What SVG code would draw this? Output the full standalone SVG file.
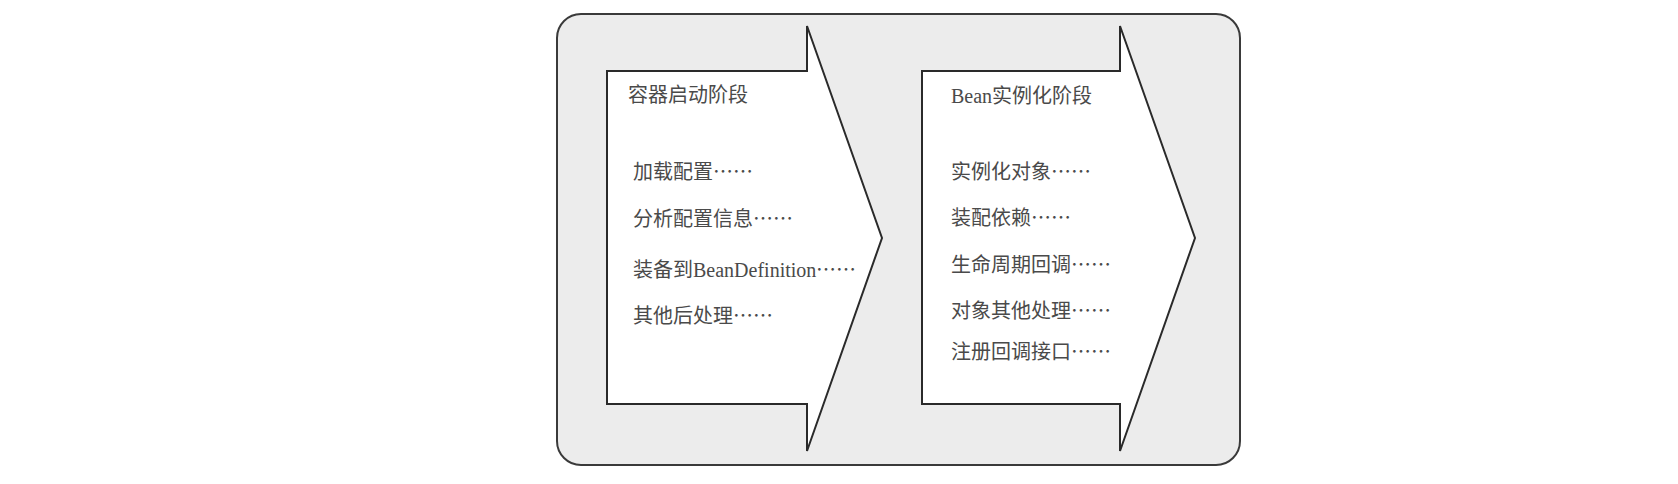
<svg xmlns="http://www.w3.org/2000/svg" width="1678" height="484" viewBox="0 0 1678 484">
<style>
.bg{fill:#ececec;stroke:#3a3a3a;stroke-width:2}
.arrow{fill:#ffffff;stroke:#2a2a2a;stroke-width:2;stroke-linejoin:miter}
text{font-family:"Liberation Serif","Noto Sans CJK SC",serif;font-size:20px;fill:#4a4a4a}
.el{font-family:"Noto Sans CJK SC",sans-serif}
</style>
<rect x="0" y="0" width="1678" height="484" fill="#ffffff"/>
<g id="container">
<rect class="bg" x="557" y="14" width="683" height="451" rx="24" ry="24"/>
</g>
<g id="stage1">
<polygon class="arrow" points="607,71 807,71 807,26 882,238 807,451 807,404 607,404"/>
<text x="628" y="102">容器启动阶段</text>
<text x="633" y="179">加载配置<tspan class="el">……</tspan></text>
<text x="633" y="226">分析配置信息<tspan class="el">……</tspan></text>
<text x="633" y="277">装备到BeanDefinition</text>
<text class="el" x="856" y="277" text-anchor="end" xml:lang="zh-CN">……</text>
<text x="633" y="323">其他后处理<tspan class="el">……</tspan></text>
</g>
<g id="stage2">
<polygon class="arrow" points="922,71 1120,71 1120,26 1195,238 1120,451 1120,404 922,404"/>
<text x="951" y="103">Bean实例化阶段</text>
<text x="951" y="179">实例化对象<tspan class="el">……</tspan></text>
<text x="951" y="225">装配依赖<tspan class="el">……</tspan></text>
<text x="951" y="272">生命周期回调<tspan class="el">……</tspan></text>
<text x="951" y="318">对象其他处理<tspan class="el">……</tspan></text>
<text x="951" y="359">注册回调接口<tspan class="el">……</tspan></text>
</g>
<g id="connectors"></g>
</svg>
